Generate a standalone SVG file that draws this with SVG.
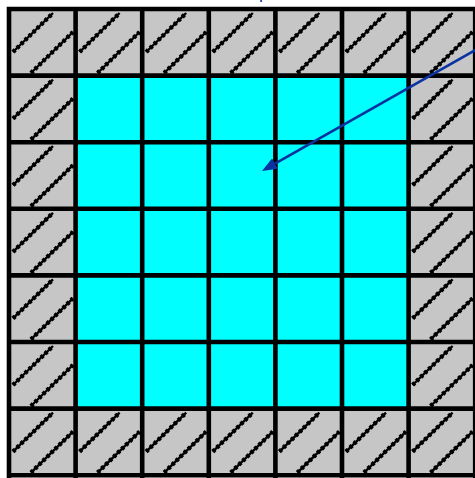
<svg xmlns="http://www.w3.org/2000/svg" xmlns:xlink="http://www.w3.org/1999/xlink" width="475" height="478" viewBox="0 0 475 478">
<style>
.grid{stroke:#000;stroke-width:4.6;fill:none;stroke-linecap:square}
.hl{stroke:#000;stroke-width:2.4;fill:none}
.hd{stroke:#000;stroke-width:4.4;fill:none;stroke-dasharray:3 2.6}
.arrow{stroke:#0a32a0;stroke-width:2.6;fill:none}
</style>
<defs>
<g id="h">
<path class="hl" d="M4 43 L44 4 M22 64 L64 23"/>
<path class="hd" d="M4 43 L44 4 M22 64 L64 23"/>
</g>
<marker id="ah" markerUnits="userSpaceOnUse" viewBox="0 0 15 12" markerWidth="15" markerHeight="12" refX="0" refY="6" orient="auto">
<path d="M0 0 L15 6 L0 12 z" fill="#0a32a0"/>
</marker>
</defs>
<rect width="475" height="478" fill="#fff"/>
<g id="border-cells">
<rect x="9" y="9" width="466.2" height="466.2" fill="#c6c6c6"/>
<use xlink:href="#h" x="9" y="9"/><use xlink:href="#h" x="75.6" y="9"/><use xlink:href="#h" x="142.2" y="9"/><use xlink:href="#h" x="208.8" y="9"/><use xlink:href="#h" x="275.4" y="9"/><use xlink:href="#h" x="342" y="9"/><use xlink:href="#h" x="408.6" y="9"/>
<use xlink:href="#h" x="9" y="408.6"/><use xlink:href="#h" x="75.6" y="408.6"/><use xlink:href="#h" x="142.2" y="408.6"/><use xlink:href="#h" x="208.8" y="408.6"/><use xlink:href="#h" x="275.4" y="408.6"/><use xlink:href="#h" x="342" y="408.6"/><use xlink:href="#h" x="408.6" y="408.6"/>
<use xlink:href="#h" x="9" y="75.6"/><use xlink:href="#h" x="9" y="142.2"/><use xlink:href="#h" x="9" y="208.8"/><use xlink:href="#h" x="9" y="275.4"/><use xlink:href="#h" x="9" y="342"/>
<use xlink:href="#h" x="408.6" y="75.6"/><use xlink:href="#h" x="408.6" y="142.2"/><use xlink:href="#h" x="408.6" y="208.8"/><use xlink:href="#h" x="408.6" y="275.4"/><use xlink:href="#h" x="408.6" y="342"/>
</g>
<g id="inner-cells">
<rect x="75.6" y="75.6" width="333" height="333" fill="#00ffff"/>
</g>
<g id="grid-lines">
<path class="grid" d="M9 9 V476 M75.6 9 V476 M142.2 9 V476 M208.8 9 V476 M275.4 9 V476 M342 9 V476 M408.6 9 V476 M475.2 9 V476 M9 9 H476 M9 75.6 H476 M9 142.2 H476 M9 208.8 H476 M9 275.4 H476 M9 342 H476 M9 408.6 H476 M9 475.2 H476"/>
</g>
<g id="connectors">
<line class="arrow" x1="477" y1="49" x2="275" y2="163.6" marker-end="url(#ah)"/>
<rect x="260.3" y="0" width="1.6" height="2" fill="#0a32a0"/>
</g>
</svg>
